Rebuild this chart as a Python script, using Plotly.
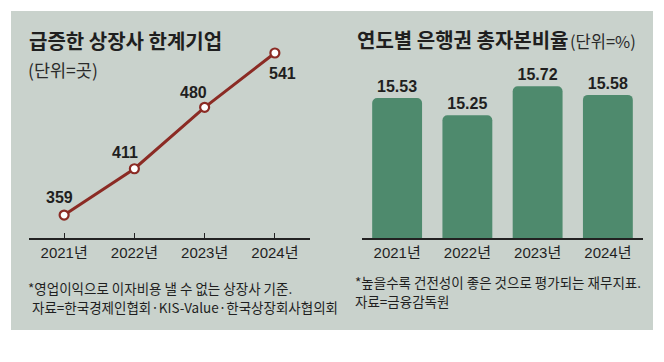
import plotly.graph_objects as go

# ---- data ----
years = ["2021년", "2022년", "2023년", "2024년"]
marginal_firms = [359, 411, 480, 541]
capital_ratio = [15.53, 15.25, 15.72, 15.58]

left_title = "급증한 상장사 한계기업"
left_unit = "(단위=곳)"
left_note1 = "*영업이익으로 이자비용 낼 수 없는 상장사 기준."
left_note2 = "자료=한국경제인협회·KIS-Value·한국상장회사협의회"
right_title = "연도별 은행권 총자본비율"
right_unit = "(단위=%)"
right_note1 = "*높을수록 건전성이 좋은 것으로 평가되는 재무지표."
right_note2 = "자료=금융감독원"

# page body has an 8px margin: the figure is placed at (8, 8) in the window
OFF = 8
VW, VH = 664, 362
W, H = VW - OFF, VH - OFF
BG = "#c9d2cc"
RED = "#8b2b24"
GREEN = "#4e8a6d"
INK = "#1f1f1f"
KR = "Noto Sans CJK KR"
NUM = "Liberation Sans Narrow, Liberation Sans, Arial, " + KR


def px(x):
    return (x - OFF) / W


def py(y):
    return (VH - y) / H


fig = go.Figure()

fig.add_trace(go.Scatter(
    x=years, y=marginal_firms, mode="lines+markers",
    line=dict(color=RED, width=3),
    marker=dict(size=9, color="white", line=dict(color=RED, width=2.2)),
    xaxis="x", yaxis="y", showlegend=False, hoverinfo="skip",
))

fig.add_trace(go.Bar(
    x=years, y=capital_ratio, width=0.71,
    marker=dict(color=GREEN, cornerradius=5, line=dict(width=0)),
    text=[f"{v:.2f}" for v in capital_ratio], textposition="outside",
    textfont=dict(family=NUM, size=16, color=INK, weight=700),
    xaxis="x2", yaxis="y2", showlegend=False, hoverinfo="skip",
))

# label offsets for the line chart (style only)
offsets = [(-5, 18), (-9, 16), (-11, 15), (8, -20)]
annotations = []
for i, (yr, v) in enumerate(zip(years, marginal_firms)):
    dx, dy = offsets[i]
    annotations.append(dict(
        x=yr, y=v, xref="x", yref="y", text=f"<b>{v}</b>", showarrow=False,
        xshift=dx, yshift=dy,
        font=dict(family=NUM, size=16, color=INK),
    ))


def txt(x, y, t, size, weight=400, color=INK):
    annotations.append(dict(
        x=px(x), y=py(y), xref="paper", yref="paper", text=t, showarrow=False,
        xanchor="left", yanchor="middle", align="left",
        font=dict(family=KR, size=size, color=color, weight=weight),
    ))


txt(27, 40, left_title, 20, 700)
txt(26, 69, left_unit, 17.5, 400, "#2a2a2a")
txt(355, 39, right_title, 20, 700)
txt(568, 41, right_unit, 16.5, 400, "#2a2a2a")
txt(26, 288, left_note1, 13.5)
txt(30, 307, left_note2, 13.5)
txt(353, 282, right_note1, 13.5)
txt(353, 301, right_note2, 13.5)

axis_common = dict(
    type="category", range=[-0.5, 3.5], showgrid=False, zeroline=False,
    showline=True, linecolor="#222222", linewidth=1.5,
    tickfont=dict(family=NUM, size=15, color=INK),
    fixedrange=True,
)

fig.update_layout(
    width=W, height=H, margin=dict(l=0, r=0, t=0, b=0),
    paper_bgcolor="white", plot_bgcolor="rgba(0,0,0,0)",
    xaxis=dict(domain=[px(29), px(310)], anchor="y", ticks="inside",
               ticklen=5, tickcolor="#222222", tickwidth=1, **axis_common),
    yaxis=dict(domain=[py(238), py(40)], range=[333.2, 555.6], visible=False,
               fixedrange=True),
    xaxis2=dict(domain=[px(362), px(643)], anchor="y2", ticks="", **axis_common),
    yaxis2=dict(domain=[py(238), py(40)], range=[13.26, 16.47], visible=False,
                fixedrange=True),
    shapes=[dict(type="rect", xref="paper", yref="paper",
                 x0=px(11), x1=px(653), y0=py(330), y1=py(11),
                 fillcolor=BG, line=dict(width=0), layer="below")],
    annotations=annotations,
)

fig.write_html("out.html")
